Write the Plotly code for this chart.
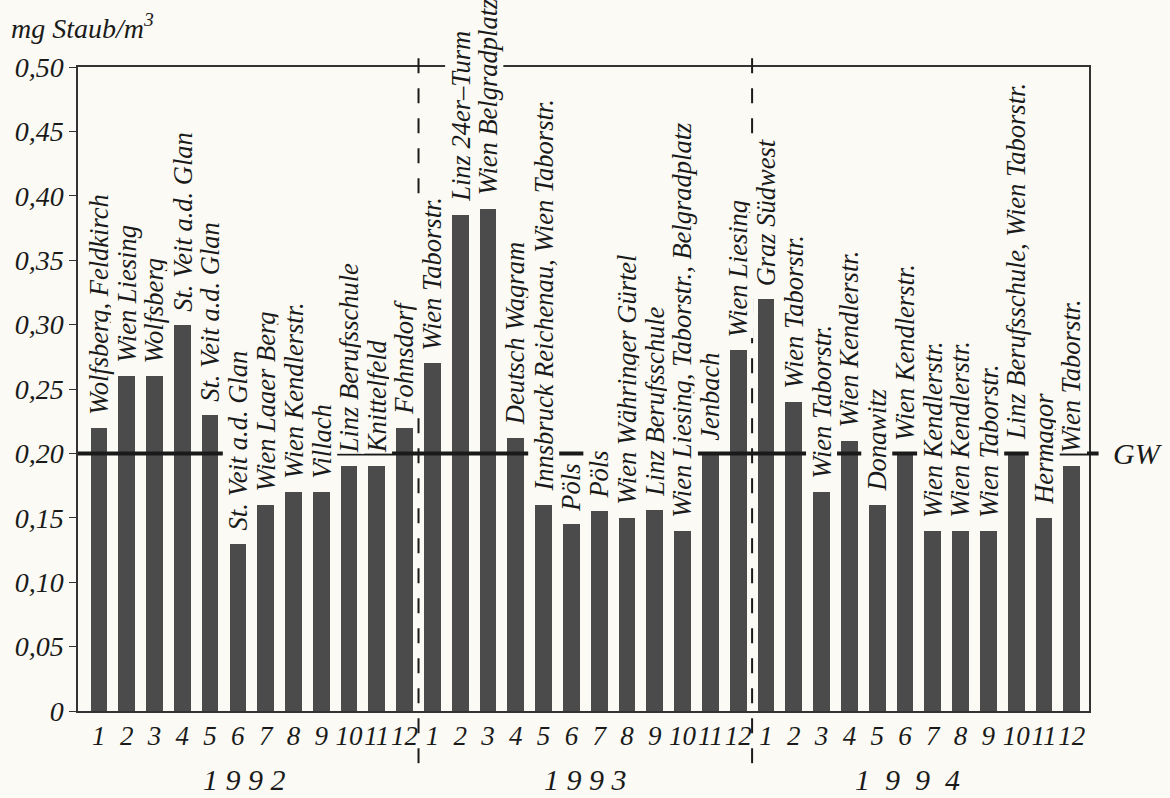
import plotly.graph_objects as go

# ---------------- data ----------------
years = ["1 9 9 2", "1 9 9 3", "1  9  9  4"]
month_labels = ["1", "2", "3", "4", "5", "6", "7", "8", "9", "10", "11", "12"]

values_1992 = [0.22, 0.26, 0.26, 0.30, 0.23, 0.13, 0.16, 0.17, 0.17, 0.19, 0.19, 0.22]
values_1993 = [0.27, 0.385, 0.39, 0.212, 0.16, 0.145, 0.155, 0.15, 0.156, 0.14, 0.20, 0.28]
values_1994 = [0.32, 0.24, 0.17, 0.21, 0.16, 0.20, 0.14, 0.14, 0.14, 0.20, 0.15, 0.19]

sites_1992 = ["Wolfsberg, Feldkirch", "Wien Liesing", "Wolfsberg", "St. Veit a.d. Glan",
              "St. Veit a.d. Glan", "St. Veit a.d. Glan", "Wien Laaer Berg", "Wien Kendlerstr.",
              "Villach", "Linz Berufsschule", "Knittelfeld", "Fohnsdorf"]
sites_1993 = ["Wien Taborstr.", "Linz 24er–Turm", "Wien Belgradplatz", "Deutsch Wagram",
              "Innsbruck Reichenau, Wien Taborstr.", "Pöls", "Pöls", "Wien Währinger Gürtel",
              "Linz Berufsschule", "Wien Liesing, Taborstr., Belgradplatz", "Jenbach", "Wien Liesing"]
sites_1994 = ["Graz Südwest", "Wien Taborstr.", "Wien Taborstr.", "Wien Kendlerstr.",
              "Donawitz", "Wien Kendlerstr.", "Wien Kendlerstr.", "Wien Kendlerstr.",
              "Wien Taborstr.", "Linz Berufsschule, Wien Taborstr.", "Hermagor", "Wien Taborstr."]

y_tick_vals = [0, 0.05, 0.10, 0.15, 0.20, 0.25, 0.30, 0.35, 0.40, 0.45, 0.50]
y_tick_text = ["0", "0,05", "0,10", "0,15", "0,20", "0,25", "0,30", "0,35", "0,40", "0,45", "0,50"]

limit_value = 0.20
limit_label = "GW"
y_title = "mg Staub/m<sup>3</sup>"

# ---------------- build ----------------
values = values_1992 + values_1993 + values_1994
sites = sites_1992 + sites_1993 + sites_1994
xs = list(range(len(values)))
ticks = month_labels * 3

FONT = "Liberation Serif"
PAPER = "#fbfaf4"
INK = "#1a1a1a"

fig = go.Figure()
fig.add_trace(go.Bar(
    x=xs, y=values, width=0.6,
    marker=dict(color="#4b4b4b", line=dict(width=0)),
    showlegend=False, hoverinfo="skip",
))

# site labels above bars
for x, v, s in zip(xs, values, sites):
    fig.add_annotation(
        x=x, y=v, xref="x", yref="y", text=s, textangle=-90,
        showarrow=False, xanchor="center", yanchor="bottom", yshift=12,
        font=dict(family=FONT, size=26.5, color=INK, style="italic"),
        bgcolor=PAPER, borderpad=0,
    )

# year labels
n = len(month_labels)
year_shift = [-7, 0, -11]
for k, yr in enumerate(years):
    center = k * n + (n - 1) / 2
    fig.add_annotation(
        x=center, y=-0.107, xref="x", yref="paper", text=yr, showarrow=False,
        xanchor="center", yanchor="middle", xshift=year_shift[k],
        font=dict(family=FONT, size=30, color=INK, style="italic"),
    )

# year separators (dashed)
for k in range(1, len(years)):
    xb = k * n - 0.5
    fig.add_shape(type="line", xref="x", yref="paper", x0=xb, x1=xb, y0=-0.081, y1=1.037,
                  line=dict(color=INK, width=2, dash="longdash"), layer="above")

# limit line
fig.add_shape(type="line", xref="paper", yref="y", x0=0, x1=1.0095,
              y0=limit_value, y1=limit_value,
              line=dict(color=INK, width=4), layer="above")
fig.add_annotation(
    x=1.022, y=limit_value, xref="paper", yref="y", text=limit_label, showarrow=False,
    xanchor="left", yanchor="middle",
    font=dict(family=FONT, size=30, color=INK, style="italic"),
)

# y title
fig.add_annotation(
    x=-0.068, y=1.063, xref="paper", yref="paper", text=y_title, showarrow=False,
    xanchor="left", yanchor="middle",
    font=dict(family=FONT, size=28, color=INK, style="italic"),
)

fig.update_layout(
    width=1170, height=798,
    margin=dict(l=78, r=81, t=67, b=87),
    paper_bgcolor=PAPER, plot_bgcolor=PAPER,
    bargap=0,
    font=dict(family=FONT, color=INK, style="italic"),
)
fig.update_xaxes(
    range=[-0.75, 35.62], tickmode="array", tickvals=xs, ticktext=ticks,
    showgrid=False, zeroline=False, showline=True, linecolor="#333", linewidth=1.5,
    mirror=True, ticks="", tickangle=0,
    tickfont=dict(family=FONT, size=27, color=INK, style="italic"),
)
fig.update_yaxes(
    range=[0, 0.5], tickmode="array", tickvals=y_tick_vals, ticktext=y_tick_text,
    showgrid=False, zeroline=False, showline=True, linecolor="#333", linewidth=1.5,
    mirror=True, ticks="outside", ticklen=7, tickcolor="#333",
    tickfont=dict(family=FONT, size=28, color=INK, style="italic"),
)

fig.write_html(
    "out.html",
    config={"displayModeBar": False},
    post_script="document.body.style.margin='0';document.body.style.overflow='hidden';",
)
